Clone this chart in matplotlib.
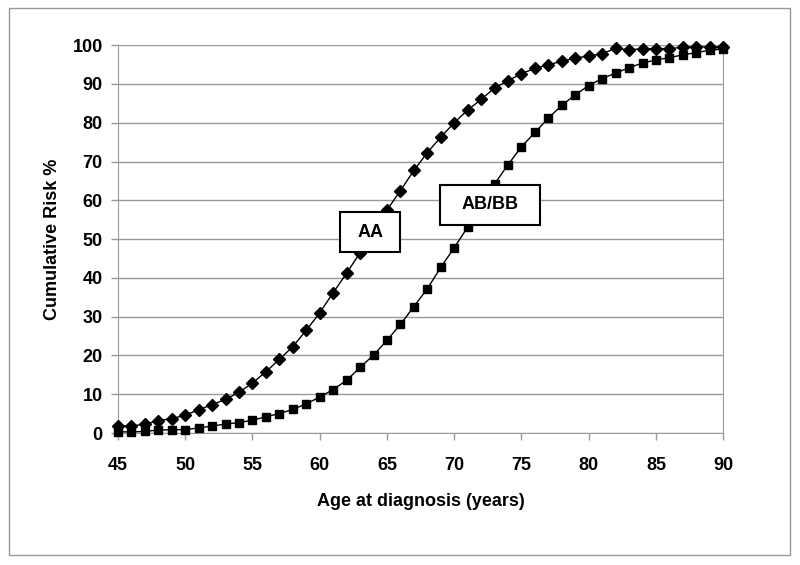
import matplotlib.pyplot as plt
from matplotlib.patches import Rectangle

plt.rcParams['font.family'] = ['Liberation Sans', 'DejaVu Sans']

ages = list(range(45, 91))
aa_risk = [1.8, 1.8, 2.3, 3.2, 3.7, 4.6, 6.0, 7.3, 8.7, 10.5,
           12.9, 15.8, 19.0, 22.3, 26.5, 31.0, 36.2, 41.2, 46.5, 52.0,
           57.5, 62.5, 67.7, 72.3, 76.3, 80.0, 83.3, 86.0, 89.0, 90.8,
           92.7, 94.0, 95.0, 95.8, 96.7, 97.2, 97.8, 99.2, 98.8, 99.1,
           99.1, 99.1, 99.5, 99.5, 99.6, 99.5]
abbb_risk = [0.3, 0.3, 0.4, 0.8, 0.8, 0.9, 1.3, 1.8, 2.3, 2.7,
             3.3, 4.2, 5.0, 6.1, 7.5, 9.3, 11.2, 13.6, 16.9, 20.1,
             23.9, 28.0, 32.6, 37.2, 42.7, 47.8, 53.1, 58.5, 64.2, 69.2,
             73.8, 77.5, 81.2, 84.5, 87.2, 89.6, 91.4, 92.8, 94.2, 95.4,
             96.2, 96.8, 97.5, 98.1, 98.7, 99.0]
x_ticks = list(range(45, 91, 5))
y_ticks = list(range(0, 101, 10))

fig = plt.figure(figsize=(8, 5.65), dpi=100)
fig.patches.append(Rectangle((0.011, 0.018), 0.977, 0.968, transform=fig.transFigure,
                             fill=False, edgecolor='#999999', linewidth=1))
ax = fig.add_axes([0.1475, 0.2336, 0.7565, 0.6864])

ax.plot(ages, aa_risk, color='black', linewidth=1, marker='D', markersize=6.5,
        clip_on=False, zorder=3)
ax.plot(ages, abbb_risk, color='black', linewidth=1, marker='s', markersize=6.3,
        clip_on=False, zorder=3)

ax.set_xlim(45, 90)
ax.set_ylim(0, 100)
ax.set_xticks(x_ticks)
ax.set_yticks(y_ticks)
ax.tick_params(labelsize=13, colors='#999999', labelcolor='black', length=5, width=1)
ax.tick_params(axis='x', pad=12)
ax.tick_params(axis='y', pad=6)
for lbl in ax.get_xticklabels() + ax.get_yticklabels():
    lbl.set_fontweight('bold')
ax.grid(axis='y', color='#999999', linewidth=1)
ax.set_axisbelow(True)
for side in ['left', 'bottom', 'right']:
    ax.spines[side].set_color('#999999')
ax.spines['top'].set_visible(False)

ax.set_xlabel('Age at diagnosis (years)', fontsize=13, fontweight='bold', labelpad=14)
ax.set_ylabel('Cumulative Risk %', fontsize=13, fontweight='bold', labelpad=8)

# label boxes (data coords)
ax.add_patch(Rectangle((61.5, 46.7), 4.5, 10.3, facecolor='white', edgecolor='black',
                       linewidth=1.5, zorder=4))
ax.text(63.75, 51.8, 'AA', fontsize=13, fontweight='bold', ha='center', va='center', zorder=5)
ax.add_patch(Rectangle((68.95, 53.6), 7.45, 10.3, facecolor='white', edgecolor='black',
                       linewidth=1.5, zorder=4))
ax.text(72.67, 59.0, 'AB/BB', fontsize=13, fontweight='bold', ha='center', va='center', zorder=5)

fig.savefig('out.png', dpi=100)
